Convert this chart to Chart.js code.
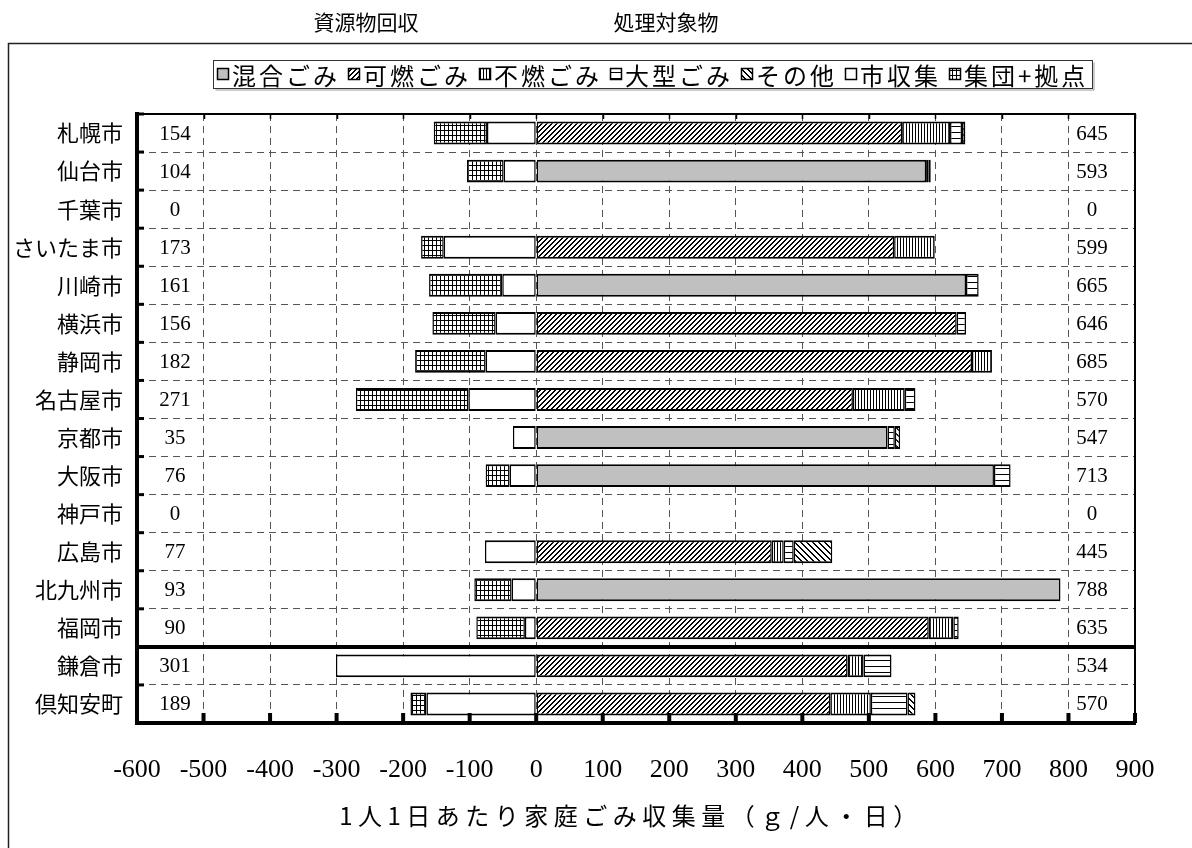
<!DOCTYPE html>
<html>
<head>
<meta charset="utf-8">
<script src="https://cdn.jsdelivr.net/npm/chart.js@4.4.1/dist/chart.umd.min.js"></script>
<style>
  html, body { margin: 0; padding: 0; background: #fff; }
  #wrap { position: relative; width: 1192px; height: 848px; }
</style>
</head>
<body>
<div id="wrap"><canvas id="c" width="1192" height="848"></canvas></div>
<script>
// ---- data (g per person per day) ----
const cities = ['札幌市', '仙台市', '千葉市', 'さいたま市', '川崎市', '横浜市', '静岡市', '名古屋市',
                '京都市', '大阪市', '神戸市', '広島市', '北九州市', '福岡市', '鎌倉市', '倶知安町'];

// collected for treatment (right side)
const mixedWaste      = [0, 586, 0, 0, 646, 0, 0, 0, 528, 688, 0, 0, 788, 0, 0, 0];
const burnableWaste   = [550, 0, 0, 538, 0, 632, 655, 476, 0, 0, 0, 354, 0, 590, 468, 442];
const nonBurnable     = [72, 4, 0, 61, 0, 0, 30, 78, 0, 0, 0, 18, 0, 37, 24, 61];
const bulkyWaste      = [18, 3, 0, 0, 19, 14, 0, 16, 11, 25, 0, 15, 0, 8, 42, 55];
const otherWaste      = [5, 0, 0, 0, 0, 0, 0, 0, 8, 0, 0, 58, 0, 0, 0, 12];

// recyclables (left side)
const cityCollection  = [74, 49, 0, 139, 51, 61, 76, 102, 35, 40, 0, 77, 37, 17, 301, 165];
const groupCollection = [80, 55, 0, 34, 110, 95, 106, 169, 0, 36, 0, 0, 56, 73, 0, 24];

const seriesNames = ['混合ごみ', '可燃ごみ', '不燃ごみ', '大型ごみ', 'その他', '市収集', '集団+拠点'];
const headings = ['資源物回収', '処理対象物'];
const axisTitle = '1人1日あたり家庭ごみ収集量（ｇ/人・日）';
const xMin = -600, xMax = 900, xStep = 100;
const separatorAfter = '福岡市';

// ---- fill patterns ----
const canvas = document.getElementById('c');
const ctx0 = canvas.getContext('2d');
function tile(w, h, paint) {
  const c = document.createElement('canvas');
  c.width = w; c.height = h;
  const g = c.getContext('2d');
  g.fillStyle = '#fff'; g.fillRect(0, 0, w, h);
  g.fillStyle = '#000';
  paint(g, w, h);
  return ctx0.createPattern(c, 'repeat');
}
const patForward = tile(5, 5, (g, w, h) => {
  for (let i = 0; i < w; i++) for (let d = 0; d < 2; d++) g.fillRect((i + d) % w, h - 1 - i, 1, 1);
});
const patBack = tile(6, 6, (g, w, h) => {
  for (let i = 0; i < w; i++) for (let d = 0; d < 2; d++) g.fillRect((i + d) % w, i, 1, 1);
});
const patVertical = tile(3, 1, (g) => { g.fillRect(0, 0, 1, 1); });
const patHorizontal = tile(1, 6, (g) => { g.fillRect(0, 0, 1, 1); });
const patGrid = tile(4, 5, (g, w, h) => { g.fillRect(0, 0, 1, h); g.fillRect(0, 0, w, 1); });

const fills = ['#c0c0c0', patForward, patVertical, patHorizontal, patBack, '#ffffff', patGrid];

const nz = v => (v === 0 ? null : v);
const seriesData = [
  mixedWaste.map(nz),
  burnableWaste.map(nz),
  nonBurnable.map(nz),
  bulkyWaste.map(nz),
  otherWaste.map(nz),
  cityCollection.map(v => nz(-v)),
  groupCollection.map(v => nz(-v))
];

const datasets = seriesNames.map((name, i) => ({
  label: name,
  data: seriesData[i],
  backgroundColor: fills[i],
  borderColor: '#000',
  borderWidth: { top: 2, bottom: 2, left: 1.5, right: 1.5 },
  borderSkipped: false,
  barPercentage: 0.6,
  categoryPercentage: 1
}));

const treatTotals = cities.map((_, i) => mixedWaste[i] + burnableWaste[i] + nonBurnable[i] + bulkyWaste[i] + otherWaste[i]);
const recycleTotals = cities.map((_, i) => cityCollection[i] + groupCollection[i]);

const JP = "'Noto Sans CJK JP', 'Noto Sans', sans-serif";
const SERIF = "'Liberation Serif', 'DejaVu Serif', serif";

// frame, axes, value columns, legend and headings
const decorations = {
  id: 'decorations',
  beforeDraw(chart) {
    const c = chart.ctx;
    c.save();
    c.fillStyle = '#fff';
    c.fillRect(0, 0, chart.width, chart.height);
    c.restore();
  },
  afterDraw(chart) {
    const c = chart.ctx;
    const a = chart.chartArea;
    const xs = chart.scales.x, ys = chart.scales.y;
    const rowH = (a.bottom - a.top) / cities.length;
    c.save();

    // outer frame
    c.strokeStyle = '#222';
    c.lineWidth = 1.5;
    c.strokeRect(8.5, 43.5, 1200, 830);

    // plot frame
    c.strokeStyle = '#000';
    c.lineWidth = 2;
    c.beginPath();
    c.moveTo(a.left, a.top); c.lineTo(a.right, a.top); c.lineTo(a.right, a.bottom);
    c.stroke();

    // top ticks
    c.lineWidth = 1.5;
    for (let v = xMin; v <= xMax; v += xStep) {
      const px = Math.round(xs.getPixelForValue(v)) + 0.5;
      c.beginPath(); c.moveTo(px, a.top); c.lineTo(px, a.top + 5); c.stroke();
    }

    // separator between city groups
    const si = cities.indexOf(separatorAfter);
    const sy = ys.getPixelForValue(si) + rowH / 2;
    c.lineWidth = 4;
    c.beginPath(); c.moveTo(a.left, sy); c.lineTo(a.right, sy); c.stroke();

    // left and bottom axis lines
    c.lineWidth = 4;
    c.beginPath();
    c.moveTo(a.left, a.top - 2); c.lineTo(a.left, a.bottom); c.lineTo(a.right + 1, a.bottom);
    c.stroke();

    // left ticks at category boundaries
    c.lineWidth = 3;
    for (let i = 0; i <= cities.length; i++) {
      const py = a.top + i * rowH;
      c.beginPath(); c.moveTo(a.left, py); c.lineTo(a.left + 7, py); c.stroke();
    }
    // bottom ticks
    c.lineWidth = 4;
    for (let v = xMin; v <= xMax; v += xStep) {
      const px = xs.getPixelForValue(v);
      c.beginPath(); c.moveTo(px, a.bottom); c.lineTo(px, a.bottom - 10); c.stroke();
    }

    // value columns
    c.fillStyle = '#000';
    c.font = `21px ${SERIF}`;
    c.textAlign = 'center';
    c.textBaseline = 'middle';
    cities.forEach((_, i) => {
      const py = ys.getPixelForValue(i) + 1;
      c.fillText(String(recycleTotals[i]), 175, py);
      c.fillText(String(treatTotals[i]), 1092, py);
    });

    // headings
    c.font = `21px ${JP}`;
    c.fillText(headings[0], 366, 22);
    c.fillText(headings[1], 666, 22);

    // axis title
    c.font = `24px ${JP}`;
    c.letterSpacing = '5.5px';
    c.fillText(axisTitle, 631, 816);
    c.letterSpacing = '0px';

    // legend
    const lx = 213.5, ly = 60.5, lw = 879, lh = 28;
    c.strokeStyle = '#999';
    c.lineWidth = 1;
    c.beginPath(); c.moveTo(lx + 2, ly + lh + 1.5); c.lineTo(lx + lw + 1.5, ly + lh + 1.5); c.lineTo(lx + lw + 1.5, ly + 2); c.stroke();
    c.strokeStyle = '#333';
    c.strokeRect(lx, ly, lw, lh);
    c.font = `24px ${JP}`;
    c.letterSpacing = '3px';
    c.textAlign = 'left';
    let x = 217;
    seriesNames.forEach((name, i) => {
      c.fillStyle = fills[i];
      c.fillRect(x, 68, 12, 12);
      c.strokeStyle = '#000';
      c.lineWidth = 1.5;
      c.strokeRect(x + 0.5, 68.5, 11, 11);
      c.fillStyle = '#000';
      c.fillText(name, x + 15, 75.5);
      x += 15 + c.measureText(name).width + 8;
    });
    c.letterSpacing = '0px';
    c.restore();
  }
};

new Chart(canvas, {
  type: 'bar',
  data: { labels: cities, datasets },
  options: {
    indexAxis: 'y',
    responsive: false,
    animation: false,
    layout: { padding: { top: 114, right: 57, left: 0, bottom: 0 } },
    plugins: { legend: { display: false }, tooltip: { enabled: false }, title: { display: false } },
    scales: {
      x: {
        type: 'linear', stacked: true, min: xMin, max: xMax,
        ticks: { stepSize: xStep, color: '#000', font: { family: SERIF, size: 26 }, padding: 32, maxRotation: 0, autoSkip: false },
        grid: { color: '#555', lineWidth: 1, drawTicks: false },
        border: { display: false, dash: [7, 5] },
        afterFit(s) { s.height = 125; }
      },
      y: {
        type: 'category', stacked: true,
        ticks: { color: '#000', font: { family: JP, size: 22 }, padding: 14, autoSkip: false },
        grid: { color: '#555', lineWidth: 1, drawTicks: false, offset: true },
        border: { display: false, dash: [7, 5] },
        afterFit(s) { s.width = 137; }
      }
    }
  },
  plugins: [decorations]
});
</script>
</body>
</html>
